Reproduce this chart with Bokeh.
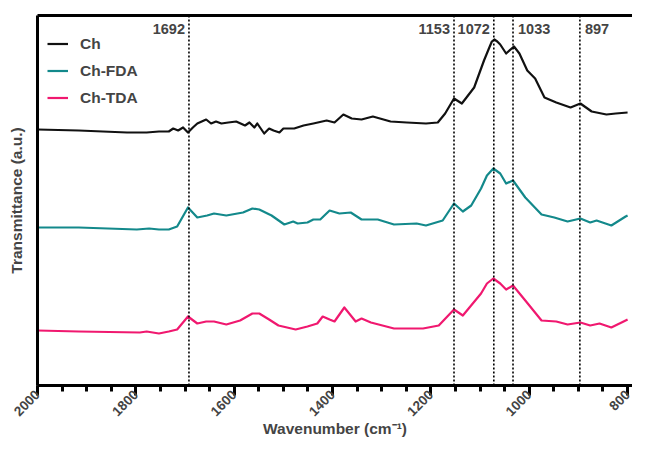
import math
from bokeh.plotting import figure
from bokeh.models import (Range1d, Span, LinearAxis, FixedTicker, SingleIntervalTicker,
                          Legend, LegendItem, Label)
from bokeh.embed import file_html
from bokeh.resources import INLINE

# ---------------- data ----------------
wn_ch = [2000, 1916, 1818, 1778, 1753, 1733, 1724, 1714, 1704, 1694, 1684, 1675, 1657, 1647,
         1637, 1626, 1612, 1596, 1578, 1569, 1559, 1553, 1539, 1529, 1520, 1508, 1500, 1478,
         1459, 1439, 1412, 1396, 1378, 1361, 1341, 1318, 1282, 1249, 1210, 1186, 1171, 1153,
         1137, 1112, 1092, 1082, 1076, 1071, 1065, 1059, 1047, 1031, 1020, 1004, 988, 969, 945,
         916, 896, 873, 843, 824, 800]
t_ch = [2.56, 2.55, 2.53, 2.53, 2.54, 2.54, 2.57, 2.55, 2.58, 2.53, 2.58, 2.62, 2.66, 2.62,
        2.64, 2.62, 2.63, 2.64, 2.60, 2.63, 2.58, 2.62, 2.52, 2.57, 2.55, 2.53, 2.57, 2.57,
        2.60, 2.62, 2.65, 2.63, 2.71, 2.67, 2.66, 2.69, 2.64, 2.63, 2.62, 2.63, 2.72, 2.87,
        2.82, 2.98, 3.25, 3.37, 3.44, 3.46, 3.44, 3.41, 3.32, 3.39, 3.32, 3.15, 3.07, 2.88, 2.83,
        2.78, 2.82, 2.74, 2.71, 2.72, 2.73]

wn_fda = [2000, 1916, 1798, 1773, 1753, 1733, 1716, 1694, 1675, 1655, 1641, 1616, 1582, 1563,
          1549, 1524, 1498, 1480, 1471, 1451, 1439, 1425, 1406, 1386, 1363, 1341, 1308, 1275,
          1229, 1210, 1176, 1153, 1135, 1118, 1098, 1086, 1073, 1059, 1047, 1033, 1008, 975, 949,
          922, 896, 876, 863, 833, 804, 800]
t_fda = [1.58, 1.58, 1.56, 1.57, 1.56, 1.56, 1.59, 1.78, 1.68, 1.70, 1.72, 1.70, 1.73, 1.77,
         1.76, 1.70, 1.61, 1.64, 1.62, 1.63, 1.66, 1.66, 1.75, 1.72, 1.73, 1.66, 1.66, 1.61,
         1.62, 1.60, 1.65, 1.82, 1.74, 1.80, 1.97, 2.10, 2.17, 2.12, 2.02, 2.05, 1.88, 1.71, 1.68,
         1.64, 1.67, 1.63, 1.65, 1.60, 1.69, 1.70]

wn_tda = [2000, 1916, 1792, 1778, 1753, 1733, 1716, 1694, 1675, 1657, 1641, 1616, 1588, 1563,
          1549, 1529, 1510, 1475, 1451, 1431, 1420, 1406, 1396, 1376, 1353, 1341, 1322, 1275,
          1216, 1184, 1153, 1135, 1098, 1086, 1073, 1059, 1047, 1033, 1008, 975, 945, 922, 896,
          876, 857, 833, 804, 800]
t_tda = [0.55, 0.54, 0.53, 0.54, 0.52, 0.54, 0.56, 0.69, 0.62, 0.64, 0.64, 0.61, 0.65, 0.72,
         0.72, 0.66, 0.60, 0.56, 0.59, 0.62, 0.69, 0.66, 0.64, 0.78, 0.64, 0.67, 0.63, 0.57,
         0.57, 0.60, 0.76, 0.70, 0.92, 1.02, 1.07, 1.02, 0.96, 1.00, 0.85, 0.65, 0.64, 0.61, 0.63,
         0.60, 0.62, 0.58, 0.65, 0.66]

series_names = ["Ch", "Ch-FDA", "Ch-TDA"]
series_colors = ["#111111", "#13898b", "#f0186f"]

peak_positions = [1692, 1153, 1072, 1033, 897]
peak_labels = ["1692", "1153", "1072", "1033", "897"]
peak_label_side = ["left", "left", "left", "right", "right"]

FONT = "Liberation Sans"

p = figure(width=632, height=441, output_backend="svg", toolbar_location=None,
           x_range=Range1d(2000, 790), y_range=Range1d(0, 3.70),
           min_border_left=37, min_border_right=0, min_border_top=15, min_border_bottom=56)
p.outline_line_color = None
p.xgrid.visible = False
p.ygrid.visible = False
p.background_fill_color = "white"
p.border_fill_color = "white"

for pk in peak_positions:
    p.add_layout(Span(location=pk, dimension="height", line_color="black",
                      line_width=1.6, line_dash="2 2"))

renderers = []
for wn, t, c in zip([wn_ch, wn_fda, wn_tda], [t_ch, t_fda, t_tda], series_colors):
    r = p.line(wn, t, line_color=c, line_width=2.2, line_join="round")
    renderers.append(r)

for pk, lab, side in zip(peak_positions, peak_labels, peak_label_side):
    p.add_layout(Label(x=pk, y=3.57, text=lab, text_font=FONT, text_font_style="bold",
                       text_font_size="14.5px", text_baseline="middle",
                       text_align="right" if side == "left" else "left",
                       x_offset=-4 if side == "left" else 5))

legend = Legend(items=[LegendItem(label=n, renderers=[r]) for n, r in zip(series_names, renderers)],
                location=(10, 274))
legend.border_line_color = None
legend.background_fill_alpha = 0
legend.label_text_font = FONT
legend.label_text_font_style = "bold"
legend.label_text_font_size = "15.5px"
legend.glyph_width = 21
legend.glyph_height = 27
legend.label_height = 27
legend.spacing = 0
legend.label_standoff = 12
legend.padding = 11
legend.margin = 0
p.add_layout(legend)

xa = p.xaxis[0]
xa.ticker = SingleIntervalTicker(interval=200, num_minor_ticks=4)
xa.axis_line_width = 3
xa.major_tick_line_width = 3
xa.minor_tick_line_width = 3
xa.major_tick_out = 10
xa.major_tick_in = 0
xa.minor_tick_out = 6
xa.minor_tick_in = 0
xa.major_label_orientation = math.pi / 4
xa.major_label_text_font = FONT
xa.major_label_text_font_style = "bold"
xa.major_label_text_font_size = "13.5px"
xa.major_label_standoff = -3
xa.axis_label = "Wavenumber (cm\u207b\u00b9)"
xa.axis_label_text_font = FONT
xa.axis_label_text_font_style = "bold"
xa.axis_label_text_font_size = "15.5px"
xa.axis_label_standoff = -3

ya = p.yaxis[0]
ya.ticker = FixedTicker(ticks=[])
ya.axis_line_width = 3
ya.axis_label = "Transmittance (a.u.)"
ya.axis_label_text_font = FONT
ya.axis_label_text_font_style = "bold"
ya.axis_label_text_font_size = "15.5px"
ya.axis_label_standoff = 13

top = LinearAxis(ticker=FixedTicker(ticks=[]), axis_line_width=3)
p.add_layout(top, "above")

open("out.html", "w").write(file_html(p, INLINE))
